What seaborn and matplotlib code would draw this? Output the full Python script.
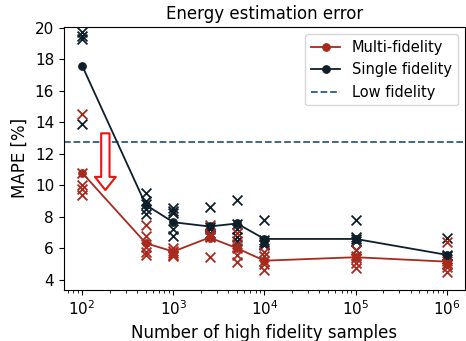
import seaborn as sns
import matplotlib.pyplot as plt
import pandas as pd
import numpy as np

# number of high fidelity samples
n_samples = [100, 500, 1000, 2500, 5000, 10000, 100000, 1000000]

# mean MAPE per setting
multi_mean = [10.8, 6.33, 5.8, 6.69, 6.01, 5.22, 5.44, 5.16]
single_mean = [17.6, 8.76, 7.66, 7.39, 7.58, 6.6, 6.6, 5.59]
low_fidelity = 12.72

# individual runs
multi_runs = [
    [14.5, 10.8, 10.0, 9.8, 9.4],
    [7.5, 6.8, 6.1, 5.8, 5.6],
    [6.0, 5.85, 5.7, 5.6, 5.5],
    [7.5, 6.9, 6.8, 6.75, 5.45],
    [7.0, 6.3, 6.0, 5.6, 5.15],
    [5.8, 5.5, 5.2, 5.0, 4.6],
    [5.9, 5.5, 5.4, 5.1, 4.75],
    [6.4, 5.2, 5.0, 4.8, 4.5],
]
single_runs = [
    [19.7, 19.5, 19.3, 13.9],
    [9.5, 9.0, 8.8, 8.5, 8.2],
    [8.55, 8.4, 8.25, 7.2, 6.8],
    [8.65, 7.35, 7.2, 7.0, 6.85],
    [9.05, 7.55, 7.2, 6.75, 6.45],
    [7.8, 6.55, 6.4, 6.3, 6.2],
    [7.8, 6.7, 6.6, 6.5, 5.9],
    [6.65, 5.6, 5.5, 5.3, 5.0],
]

red = '#a8291e'
dark = '#0e1f29'
blue = '#2f5f7f'

def runs_df(runs):
    return pd.DataFrame([(n, v) for n, vals in zip(n_samples, runs) for v in vals],
                        columns=['n', 'mape'])

plt.style.use('default')
plt.rcParams['font.family'] = ['DejaVu Sans']

fig = plt.figure(figsize=(4.66, 3.41), dpi=100)
ax = fig.add_axes([0.137, 0.150, 0.861, 0.771])
ax.set_xscale('log')

sns.scatterplot(data=runs_df(single_runs), x='n', y='mape', marker='x', color=dark,
                s=50, linewidth=1.3, ax=ax, zorder=3)
sns.scatterplot(data=runs_df(multi_runs), x='n', y='mape', marker='x', color=red,
                s=50, linewidth=1.3, ax=ax, zorder=3)

sns.lineplot(x=n_samples, y=multi_mean, color=red, marker='o', markersize=5.5,
             markeredgecolor=red, lw=1.3, label='Multi-fidelity', ax=ax, zorder=4)
sns.lineplot(x=n_samples, y=single_mean, color=dark, marker='o', markersize=5.5,
             markeredgecolor=dark, lw=1.3, label='Single fidelity', ax=ax, zorder=4)
ax.axhline(low_fidelity, color=blue, ls='--', lw=1.3, label='Low fidelity')

# improvement arrow
ax.annotate('', xy=(180, 9.7), xytext=(180, 13.3),
            arrowprops=dict(arrowstyle='simple,head_length=0.95,head_width=1.5,tail_width=0.6',
                            fc='white', ec='#e8150f', lw=1.5, shrinkA=0, shrinkB=0),
            zorder=5)

ax.set_ylim(3.37, 20.05)
ax.set_yticks([4, 6, 8, 10, 12, 14, 16, 18, 20])
ax.set_title('Energy estimation error', fontsize=12)
ax.set_xlabel('Number of high fidelity samples', fontsize=12)
ax.set_ylabel('MAPE [%]', fontsize=12)
ax.tick_params(labelsize=11)
ax.legend(loc='upper right', fontsize=10.5, frameon=True)

fig.savefig('out.png', dpi=100)
